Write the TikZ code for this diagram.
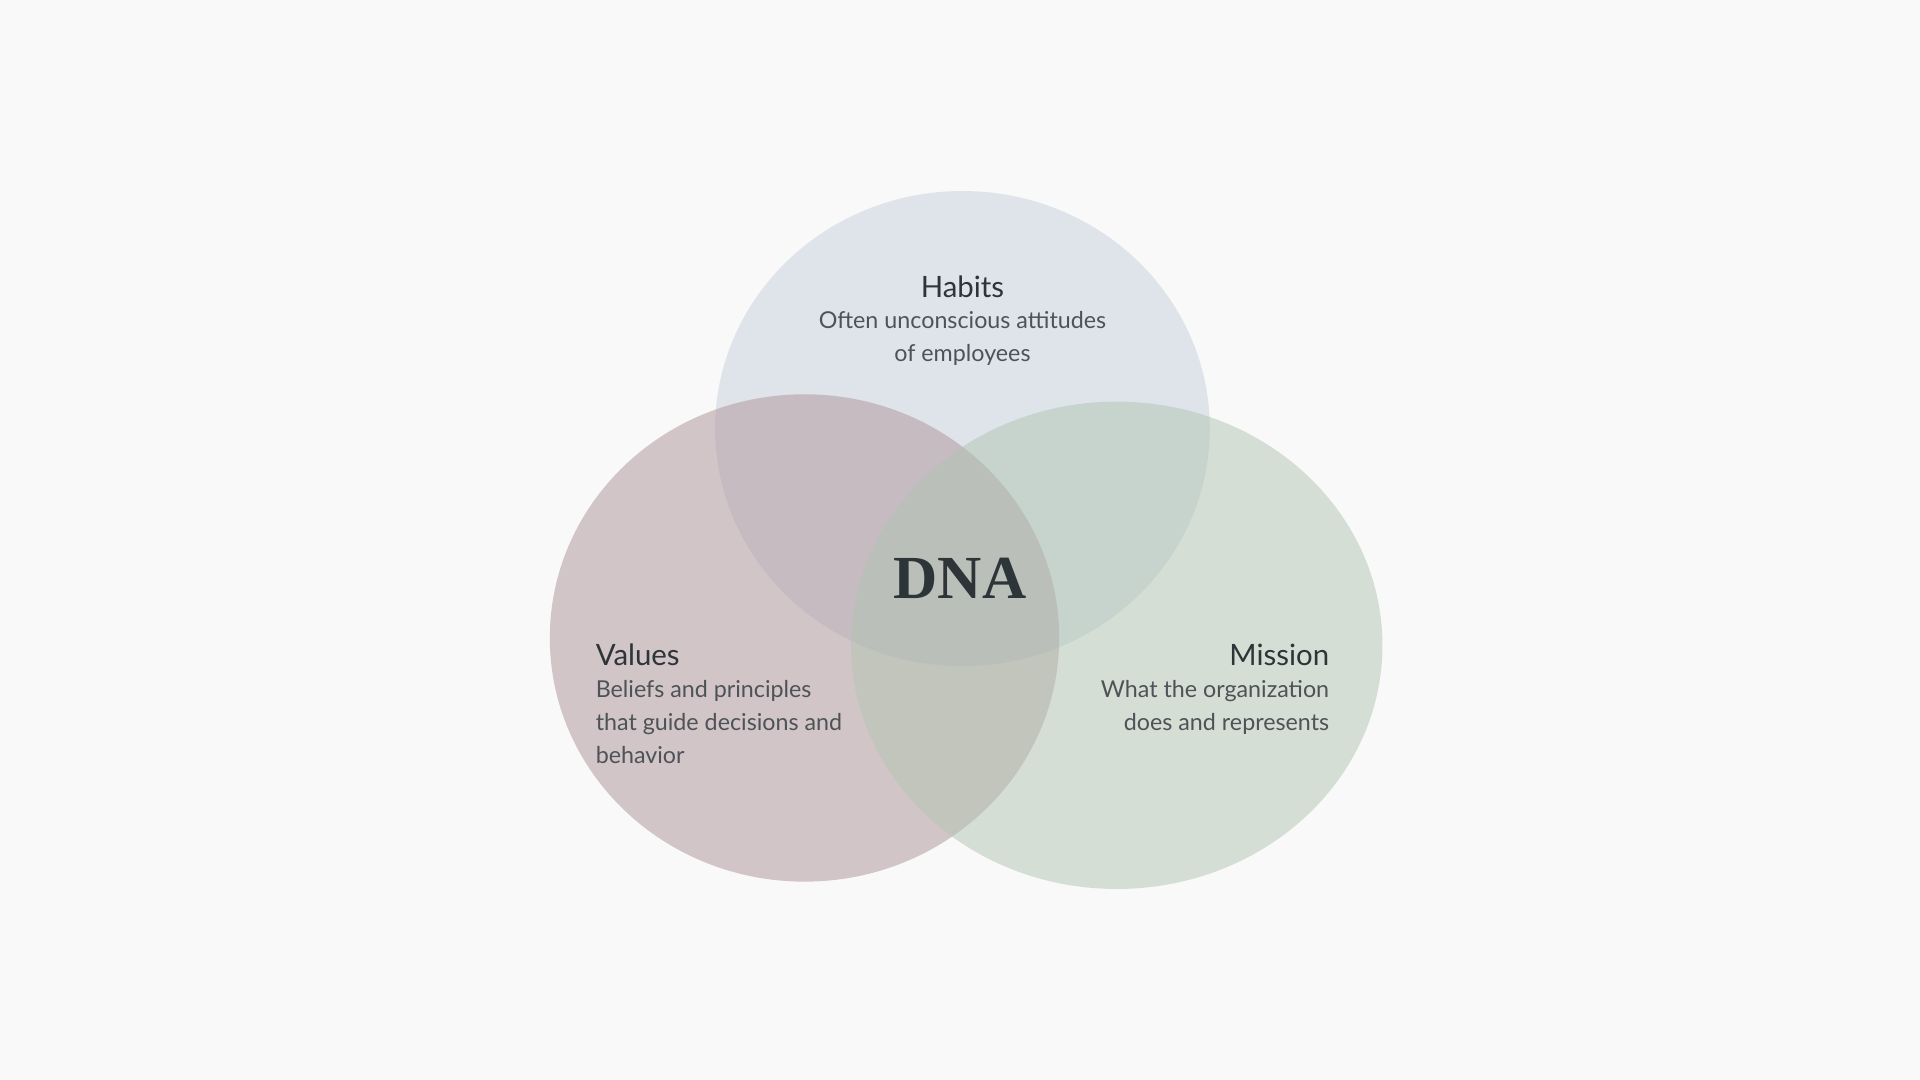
\documentclass[tikz,border=0pt]{standalone}
\usepackage{fontspec}
\setmainfont{Lato}
\newfontfamily\dnafont{Liberation Serif}
\definecolor{bg}{HTML}{F9F9F9}
\definecolor{ctop}{HTML}{C5D1DD}
\definecolor{cleft}{HTML}{AD9397}
\definecolor{cright}{HTML}{B1C5B3}
\definecolor{txt}{HTML}{2E3538}
\tikzset{blob/.style={fill opacity=0.5,draw=none},
 ttl/.style={text=txt,font=\fontsize{24}{28}\selectfont},
 body/.style={text=txt!85,font=\fontsize{19}{27}\selectfont}}
\begin{document}
\begin{tikzpicture}[x=1pt,y=-1pt]
\fill[bg] (0,0) rectangle (1568,882);
\useasboundingbox (0,0) rectangle (1568,882);
\fill[blob,ctop] (786,350) ellipse [x radius=202,y radius=194];
\fill[blob,cleft] (657,521) ellipse [x radius=208,y radius=199];
\fill[blob,cright] (912,527) ellipse [x radius=217,y radius=199];
\node[ttl] (ht) at (786,234) {Habits};
\node[body,align=center,anchor=north] (hb) at (786,251) {Often unconscious attitudes\\of employees};
\node[ttl,anchor=west] (vt) at (483,535) {Values};
\node[body,align=left,anchor=north west] (vb) at (483,552) {Beliefs and principles\\that guide decisions and\\behavior};
\node[ttl,anchor=east] (mt) at (1089,535) {Mission};
\node[body,align=right,anchor=north east] (mb) at (1089,552) {What the organization\\does and represents};
\node[text=txt,font=\dnafont\bfseries\fontsize{50}{50}\selectfont] (dna) at (784,472) {DNA};
\end{tikzpicture}
\end{document}
